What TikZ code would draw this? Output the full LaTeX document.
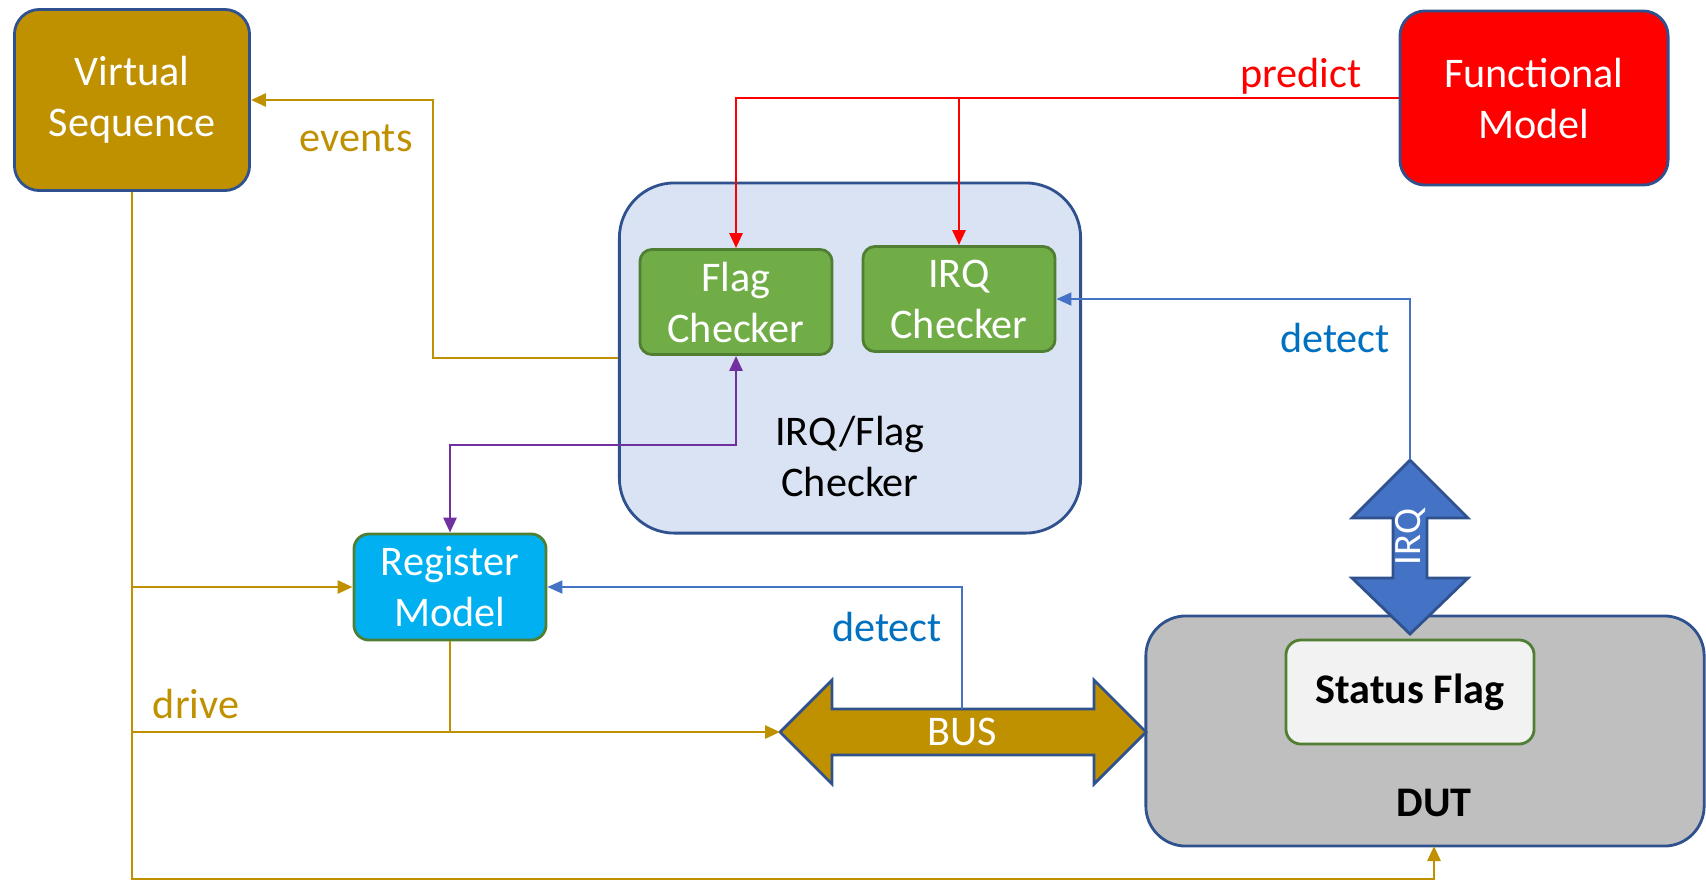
\documentclass[tikz,border=0pt]{standalone}
\usepackage{fontspec}
\setmainfont{Carlito}
\usetikzlibrary{arrows.meta}
\definecolor{cgold}{RGB}{191,144,0}
\definecolor{cedge}{RGB}{47,82,143}
\definecolor{cpale}{RGB}{218,227,243}
\definecolor{cgreen}{RGB}{112,173,71}
\definecolor{cgreenedge}{RGB}{80,126,50}
\definecolor{ccyan}{RGB}{0,176,240}
\definecolor{cgray}{RGB}{191,191,191}
\definecolor{cflag}{RGB}{242,242,242}
\definecolor{cblue}{RGB}{68,114,196}
\definecolor{ctext}{RGB}{0,112,192}
\definecolor{cpurple}{RGB}{112,48,160}
\tikzset{
  flow/.style={x=0.01cm,y=-0.01cm,font=\fontsize{12}{14.5}\selectfont,
    >={Triangle[length=0.15cm,width=0.13cm]}},
  blk/.style={draw=cedge,line width=0.8pt,rounded corners=0.25cm,align=center,text=white,inner sep=0pt},
  chk/.style={blk,fill=cgreen,draw=cgreenedge,rounded corners=0.12cm,minimum width=1.92cm,minimum height=1.05cm},
  wire/.style={line width=0.8pt},
  thinwire/.style={line width=0.55pt,cblue},
}

\begin{document}
\begin{tikzpicture}[flow]
  \useasboundingbox (0,0) rectangle (1706,881);
  \node[blk,fill=cgold,minimum width=2.35cm,minimum height=1.81cm] (vseq) at (132,100) {Virtual\\Sequence};
  \node[blk,fill=red,minimum width=2.68cm,minimum height=1.74cm] (fmodel) at (1534,98) {Functional\\Model};
  \node[blk,fill=cpale,rounded corners=0.55cm,minimum width=4.61cm,minimum height=3.5cm] (irqflag) at (850,358) {};
  \node[align=center] (irqflaglbl) at (850,456) {IRQ/Flag\\Checker};
  \node[chk] (flagchk) at (736,302) {Flag\\Checker};
  \node[chk] (irqchk) at (959,299) {IRQ\\Checker};
  \node[blk,fill=ccyan,draw=cgreenedge,rounded corners=0.15cm,minimum width=1.92cm,minimum height=1.06cm] (regmodel) at (450,587) {Register\\Model};
  \node[blk,fill=cgray,rounded corners=0.4cm,minimum width=5.58cm,minimum height=2.3cm] (dut) at (1425,731) {};
  \node[blk,fill=cflag,draw=cgreenedge,text=black,rounded corners=0.15cm,minimum width=2.48cm,minimum height=1.04cm,font=\fontsize{12}{14.5}\selectfont\bfseries] (sflag) at (1410,692) {Status Flag};
  \node[font=\fontsize{12}{14.5}\selectfont\bfseries] (dutlbl) at (1434,803) {DUT};
  % bus and irq arrows
  \filldraw[fill=cgold,draw=cedge,line width=0.8pt] (780,732) -- (832,680) -- (832,709) -- (1094,709) -- (1094,680)
    -- (1146,732) -- (1094,784) -- (1094,755) -- (832,755) -- (832,784) -- cycle;
  \node[text=white] (buslbl) at (962,732) {BUS};
  \filldraw[fill=cblue,draw=cedge,line width=0.8pt] (1410,460) -- (1468,518) -- (1427,518) -- (1427,578) -- (1468,578)
    -- (1410,634) -- (1352,578) -- (1393,578) -- (1393,518) -- (1352,518) -- cycle;
  \node[text=white,rotate=90,font=\fontsize{11}{13}\selectfont] (irqlbl) at (1410,537) {IRQ};
  \coordinate (busL) at (780,732);
  \coordinate (bustop) at (962,709);
  \coordinate (irqtop) at (1410,460);
  \coordinate (dutin) at (1434,846);
  \coordinate (drivebot) at (132,879);
  % connectors
  \draw[wire,red,->] (fmodel.west) -| (flagchk.north);
  \draw[wire,red,->] (irqchk.north |- fmodel.west) -- (irqchk.north);
  \node[red] (predictlbl) at (1301,76) {predict};
  \draw[thinwire,->] (irqtop) |- (irqchk.east);
  \node[text=ctext] (detectlbl) at (1335,338) {detect};
  \draw[wire,cpurple,<->] (flagchk.south) -- ++(0,89) -| (regmodel.north);
  \draw[thinwire,->] (bustop) |- (regmodel.east);
  \node[text=ctext] (detectlblb) at (887,627) {detect};
  \draw[wire,cgold,->] (irqflag.west) -- ++(-185,0) |- (vseq.east);
  \node[text=cgold] (eventslbl) at (356,138) {events};
  \draw[wire,cgold,->] (vseq.south) -- (drivebot) -| (dutin);
  \draw[wire,cgold,->] (vseq.south |- regmodel.west) -- (regmodel.west);
  \draw[wire,cgold,->] (vseq.south |- busL) -- (busL);
  \draw[wire,cgold] (regmodel.south) -- (regmodel.south |- busL);
  \node[text=cgold] (drivelbl) at (196,704) {drive};
\end{tikzpicture}
\end{document}
